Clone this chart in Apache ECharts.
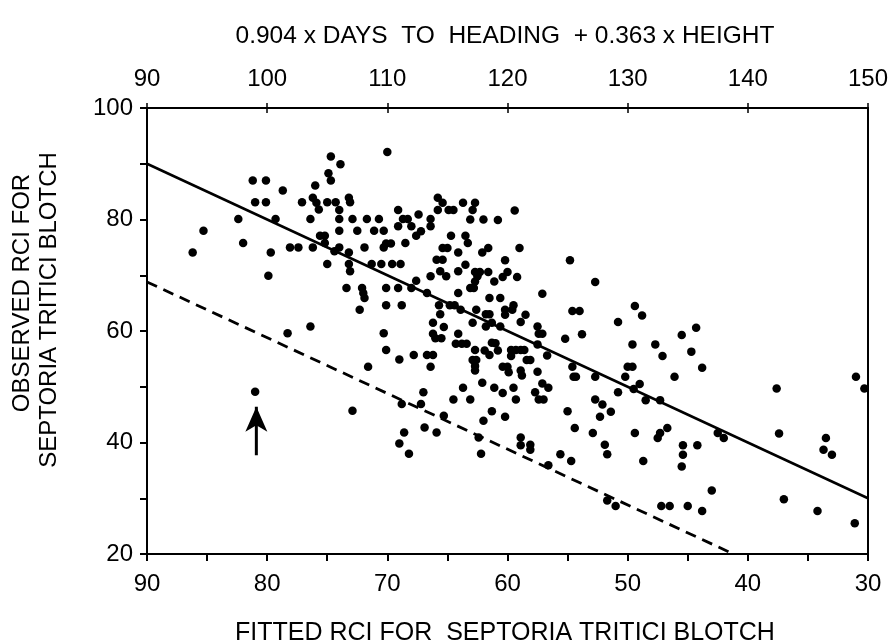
<!DOCTYPE html>
<html><head><meta charset="utf-8">
<script src="https://cdn.jsdelivr.net/npm/echarts@6/dist/echarts.min.js"></script>
<style>html,body{margin:0;padding:0;background:#fff}#c{width:891px;height:642px}</style>
</head><body><div id="c"></div>
<script>
// Fitted RCI (bottom axis, reversed) and observed RCI (left axis) for each line
const fittedRCI = [
86.2,85.3,82.4,82.0,81.2,81.0,80.1,80.1,79.3,79.7,79.9,78.7,78.1,77.4,78.3,76.4,77.1,76.4,76.2,76.0,
76.2,75.9,75.7,75.6,75.2,75.2,75.0,74.7,74.9,74.7,75.0,73.9,74.3,74.0,74.0,74.0,74.0,74.4,73.2,73.1,
72.9,72.5,73.2,73.2,73.1,73.4,72.1,72.0,71.9,72.3,71.9,71.7,71.3,71.1,70.7,81.0,71.6,72.9,
70.0,70.3,70.3,70.1,69.7,70.5,70.1,70.1,69.1,69.1,68.7,68.3,68.0,67.4,67.6,67.2,68.5,66.4,66.4,65.8,
65.4,65.8,64.9,64.5,63.7,62.7,62.9,63.1,62.0,64.7,63.5,63.3,65.4,65.0,64.1,62.1,61.6,69.6,68.9,65.9,
65.4,65.6,65.1,63.5,64.1,66.4,67.6,62.7,62.3,62.5,62.7,61.6,69.1,68.0,66.7,63.1,62.8,64.1,68.8,65.7,
64.8,64.4,65.6,63.9,62.6,61.8,66.2,65.3,62.9,61.8,
59.4,60.8,59.0,60.2,54.8,60.0,60.4,59.2,61.1,52.7,57.1,61.5,60.6,60.2,60.2,59.6,59.5,58.5,54.6,54.0,
49.4,48.8,50.8,58.9,61.5,61.3,60.6,45.5,44.3,
70.3,70.1,69.0,67.8,66.7,66.2,66.4,66.2,66.0,65.5,64.1,64.3,63.8,63.4,62.7,61.9,62.9,62.6,62.7,62.7,
62.1,63.7,64.5,63.1,67.0,68.8,67.2,65.3,62.0,68.6,66.9,65.9,69.0,68.2,62.4,62.2,
61.3,61.0,60.8,61.5,59.7,59.3,58.9,58.6,59.7,58.4,58.1,57.5,56.7,57.5,57.4,57.1,55.2,53.8,49.6,60.4,
60.0,59.9,58.9,58.8,57.5,54.6,54.5,54.3,52.7,50.2,50.0,49.6,50.8,49.5,49.0,48.5,57.1,56.6,57.7,57.4,
57.0,61.1,60.4,59.5,59.3,61.3,60.2,55.0,52.7,52.1,51.4,52.3,54.4,52.9,49.4,58.9,58.9,58.1,58.1,55.6,
54.7,51.9,51.7,48.7,56.6,51.7,51.0,
47.7,47.1,44.7,46.1,43.8,47.3,47.5,47.3,46.7,45.4,45.4,45.5,44.2,42.5,42.0,43.0,47.2,46.5,45.0,43.8,
37.6,37.4,37.0,34.2,33.5,33.7,33.0,31.1,31.0,30.3
];
const observedRCI = [
74.1,78.0,80.1,75.8,87.0,83.1,87.0,83.1,80.1,74.1,69.9,85.2,75.0,75.0,59.6,60.8,83.1,80.1,75.0,86.1,
83.9,83.0,81.8,77.1,77.1,75.8,72.0,91.3,88.3,87.0,83.1,89.9,83.1,81.7,80.1,78.0,75.0,74.3,83.9,83.1,
80.1,78.0,74.1,72.0,70.7,67.7,67.7,66.8,65.9,63.8,75.0,80.1,72.0,78.0,80.1,49.1,53.6,45.7,
92.1,78.0,75.0,75.7,75.7,72.0,67.7,64.6,81.7,78.8,80.1,80.1,78.8,80.9,77.1,77.9,75.8,80.1,78.8,83.9,
83.0,81.7,81.7,81.7,83.0,83.0,81.7,80.0,80.0,77.1,77.1,75.8,74.9,74.9,74.1,74.1,74.9,72.0,72.0,72.8,
72.8,70.7,69.8,71.9,70.7,69.8,69.0,70.6,70.6,69.8,68.9,70.6,67.7,67.7,66.8,67.7,67.7,66.8,64.6,64.6,
64.6,64.6,63.0,63.8,63.8,63.0,61.5,60.7,61.5,60.8,
81.6,79.9,74.9,72.7,72.7,70.6,69.7,69.7,68.9,68.8,66.7,65.9,65.9,63.8,62.9,63.8,64.6,62.9,63.6,63.6,
64.5,62.8,61.6,61.6,63.0,61.5,60.8,59.3,60.6,
59.6,56.6,54.9,55.7,55.7,55.7,53.6,59.5,58.7,58.7,59.5,57.7,57.7,57.7,56.6,56.5,54.8,54.8,53.7,52.9,
50.7,49.8,47.7,47.7,49.0,46.9,46.9,44.8,43.9,41.8,42.7,41.8,39.8,38.0,40.9,38.0,
57.9,57.8,56.5,55.7,56.6,56.6,56.6,56.6,55.5,54.8,54.8,57.6,55.6,60.8,59.5,59.5,58.6,59.4,57.6,53.6,
53.6,52.6,52.9,52.0,52.7,53.6,51.8,51.8,51.8,51.8,53.6,53.6,49.0,49.6,50.5,47.6,50.6,49.8,49.0,47.7,
47.7,49.8,48.9,49.8,47.7,45.6,44.6,45.6,47.7,46.8,45.5,44.6,42.6,41.7,41.7,40.9,39.5,39.6,38.7,37.9,
36.7,39.6,37.9,36.7,35.9,29.6,28.6,
57.6,55.5,56.3,51.8,53.4,47.6,40.8,41.7,42.6,39.5,37.8,35.7,39.5,41.7,40.8,31.4,28.6,28.6,28.6,27.7,
49.7,41.6,29.8,27.7,40.8,38.7,37.8,25.5,51.8,49.7
];
// reference lines (fitted, observed)
const solidLine = [[90, 90], [30, 30]];
const dashedLine = [[90, 68.8], [41.2, 20]];
// arrow marking one line (tail, tip)
const arrowLine = [[80.9, 37.7], [80.9, 46.4]];
// axes
const bottomTicks = [90, 80, 70, 60, 50, 40, 30];
const leftTicks = [20, 40, 60, 80, 100];
const topTicks = [90, 100, 110, 120, 130, 140, 150];
const topTitle = '0.904 x DAYS  TO  HEADING  + 0.363 x HEIGHT';
const bottomTitle = 'FITTED RCI FOR  SEPTORIA TRITICI BLOTCH';
const leftTitle1 = 'OBSERVED RCI FOR';
const leftTitle2 = 'SEPTORIA TRITICI BLOTCH';

const FONT = '"Liberation Sans", Arial, sans-serif';
const points = fittedRCI.map((x, i) => [x, observedRCI[i]]);
const lbl = {color: '#000', fontSize: 24, fontFamily: FONT};

const chart = echarts.init(document.getElementById('c'), null, {renderer: 'canvas'});
chart.setOption({
  animation: false,
  backgroundColor: '#fff',
  grid: {left: 147, right: 21, top: 108, bottom: 88, show: false},
  xAxis: [
    {type: 'value', position: 'bottom', min: 30, max: 90, interval: 5, inverse: true,
     axisLine: {show: true, lineStyle: {color: '#000', width: 2}},
     axisTick: {show: true, inside: false, length: 7, lineStyle: {color: '#000', width: 2}},
     axisLabel: Object.assign({margin: 18, formatter: v => bottomTicks.includes(v) ? String(v) : ''}, lbl),
     splitLine: {show: false}},
    {type: 'value', position: 'top', min: 90, max: 150, interval: 10,
     axisLine: {show: true, onZero: false, lineStyle: {color: '#000', width: 2}},
     axisTick: {show: true, inside: false, length: 5, lineStyle: {color: '#000', width: 1.5}},
     axisLabel: Object.assign({margin: 17, formatter: v => topTicks.includes(v) ? String(v) : ''}, lbl),
     splitLine: {show: false}},
    {type: 'value', position: 'top', min: 90, max: 150, interval: 10,
     axisLine: {show: false},
     axisTick: {show: true, inside: true, length: 5, lineStyle: {color: '#000', width: 1.5}},
     axisLabel: {show: false}, splitLine: {show: false}}
  ],
  yAxis: [
    {type: 'value', position: 'left', min: 20, max: 100, interval: 10,
     axisLine: {show: true, onZero: false, lineStyle: {color: '#000', width: 2}},
     axisTick: {show: true, inside: false, length: 7, lineStyle: {color: '#000', width: 2}},
     axisLabel: Object.assign({margin: 14, formatter: v => leftTicks.includes(v) ? String(v) : ''}, lbl),
     splitLine: {show: false}},
    {type: 'value', position: 'right', min: 20, max: 100, interval: 10,
     axisLine: {show: true, onZero: false, lineStyle: {color: '#000', width: 2}},
     axisTick: {show: false}, axisLabel: {show: false}, splitLine: {show: false}}
  ],
  series: [
    {type: 'scatter', xAxisIndex: 0, yAxisIndex: 0, data: points, symbol: 'circle', symbolSize: 8.5,
     itemStyle: {color: '#000', opacity: 1}, z: 5},
    {type: 'line', xAxisIndex: 0, yAxisIndex: 0, data: solidLine, symbol: 'none',
     lineStyle: {color: '#000', width: 2.5, type: 'solid'}, z: 3},
    {type: 'line', xAxisIndex: 0, yAxisIndex: 0, data: dashedLine, symbol: 'none',
     lineStyle: {color: '#000', width: 2.8, type: [11, 7]}, z: 3},
    {type: 'line', xAxisIndex: 0, yAxisIndex: 0, data: arrowLine, symbol: 'none',
     lineStyle: {color: '#000', width: 3}, z: 4},
    {type: 'scatter', xAxisIndex: 0, yAxisIndex: 0, data: [arrowLine[1]],
     symbol: 'path://M10,0L20,23L10,17L0,23Z', symbolKeepAspect: false,
     symbolSize: [22, 25], symbolOffset: [0, '50%'], itemStyle: {color: '#000', opacity: 1}, z: 4}
  ],
  graphic: [
    {type: 'text', x: 505, y: 36, style: {text: topTitle, font: '24.5px ' + FONT, fill: '#000', align: 'center', verticalAlign: 'middle'}},
    {type: 'text', x: 505, y: 633, style: {text: bottomTitle, font: '25px ' + FONT, fill: '#000', align: 'center', verticalAlign: 'middle'}},
    {type: 'text', x: 22, y: 293, rotation: Math.PI / 2, style: {text: leftTitle1, font: '24px ' + FONT, fill: '#000', align: 'center', verticalAlign: 'middle'}},
    {type: 'text', x: 49, y: 310, rotation: Math.PI / 2, style: {text: leftTitle2, font: '24px ' + FONT, fill: '#000', align: 'center', verticalAlign: 'middle'}}
  ]
});
</script></body></html>
